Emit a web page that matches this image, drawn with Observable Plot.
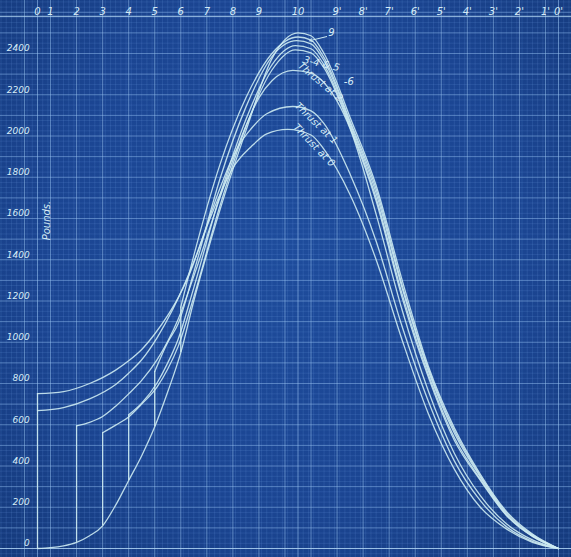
<!DOCTYPE html>
<html><head><meta charset="utf-8">
<script src="https://cdn.jsdelivr.net/npm/d3@7"></script>
<script src="https://cdn.jsdelivr.net/npm/@observablehq/plot@0.6"></script>
<style>
html,body{margin:0;padding:0;}
body{width:571px;height:557px;overflow:hidden;background:radial-gradient(ellipse at 50% 45%, #1e4c9c 0%, #1b4592 60%, #153a7c 100%);}
svg{display:block}
</style>
</head><body><div id="chart"></div>
<script>
// Stations along the top (0 … 10 … 0') and their positions in station units
const stationLabels = ["0","1","2","3","4","5","6","7","8","9","10","9'","8'","7'","6'","5'","4'","3'","2'","1'","0'"];
const stationPos    = [0,0.5,1.5,2.5,3.5,4.5,5.5,6.5,7.5,8.5,10,11.5,12.5,13.5,14.5,15.5,16.5,17.5,18.5,19.5,20];
// Pounds scale
const poundTicks = [0,200,400,600,800,1000,1200,1400,1600,1800,2000,2200,2400];

// Curves (station units, pounds)
const thrust0U = [0,1,2,3,3.5,4,4.5,5,5.4,5.8,6.5,7,7.5,8.2,8.8,9.6,10.5,11,12,13,14,15,16,17,18,19,20];
const thrust0V = [751,761,800,865,910,965,1040,1130,1215,1320,1560,1715,1845,1948,2010,2032,2005,1935,1715,1400,1010,655,385,200,95,30,0];
const thrust1U = [0,1,2,3,3.5,4,4.6,5.2,6,7,7.4,7.7,8.2,8.8,9.8,10.5,11,12,13,14,15,16,17,18,19,20];
const thrust1V = [668,683,725,795,850,915,1024,1161,1390,1745,1870,1948,2035,2108,2143,2122,2060,1815,1490,1075,715,425,232,106,35,0];
const thrust2U = [1.5,2,2.5,3,3.5,4,4.6,5,5.4,6,7,8,8.5,9,9.8,10.5,11,12,13,14,15,16,17,18,19,20];
const thrust2V = [595,612,640,690,750,815,917,1005,1112,1320,1700,2050,2185,2268,2318,2305,2258,2035,1620,1155,765,462,256,120,42,0];
const thrust3U = [2.5,3,3.5,4,4.6,5,5.4,6,7,8,9,9.9,10.5,11,12,13,14,15,16,17,18,19,20];
const thrust3V = [561,598,638,700,785,870,980,1220,1660,2045,2320,2418,2403,2330,2040,1685,1215,832,525,330,160,58,0];
const thrust4U = [3.5,4,4.6,5,5.4,6,7,8,9,9.9,10.5,11,12,13,14,15,16,17,18,19,20];
const thrust4V = [649,705,805,900,1015,1265,1710,2080,2345,2438,2423,2345,2050,1700,1232,845,538,336,163,60,0];
const thrust5U = [4.5,5,5.4,6,7,8,9,9.95,10.5,11,12,13,14,15,16,17,18,19,20];
const thrust5V = [858,1000,1090,1340,1790,2140,2385,2462,2447,2365,2062,1722,1262,862,560,346,168,62,0];
const thrust6U = [5.5,6,7,8,9,10,10.5,11,12,13,14,15,16,17,18,19,20];
const thrust6V = [1170,1420,1860,2185,2400,2480,2465,2380,2072,1742,1276,873,572,352,174,66,0];
const thrust9U = [0,0.5,1,1.5,2,2.5,3,3.5,4,4.5,5,5.5,6,7,8,9,10,10.5,11,12,13,14,15,16,17,18,19,20];
const thrust9V = [0,4,13,30,62,110,210,330,450,590,760,950,1200,1640,2025,2375,2500,2486,2400,2090,1760,1300,885,585,360,180,70,0];

// Vertical drops at the thrust stations
const dropU      = [0,1.5,2.5,3.5,4.5,5.5];
const dropTop    = [751,595,561,649,858,1170];
const dropBottom = [0,30,110,330,590,950];

const curves = [
  ["0",thrust0U,thrust0V],["1",thrust1U,thrust1V],["2",thrust2U,thrust2V],
  ["3",thrust3U,thrust3V],["4",thrust4U,thrust4V],["5",thrust5U,thrust5V],
  ["6",thrust6U,thrust6V],["9",thrust9U,thrust9V]
];
const rows = curves.flatMap(([name,us,vs]) => us.map((u,i)=>({name,u,v:vs[i]})));
const drops = dropU.map((u,i)=>({u,top:dropTop[i],bottom:dropBottom[i]}));
const stations = stationLabels.map((l,i)=>({l,u:stationPos[i]}));

const pxU = 26.05, pxV = 0.20625;
const xDom = [-37/pxU, 534/pxU];
const yDom = [-9/pxV, 548/pxV];

const fineX = d3.range(-1.4, 20.6, 0.2);
const majorX = d3.range(-1.5, 21, 1).concat([0,10,20]);
const fineY = d3.range(-25, 2675, 25);
const majorY = d3.range(0, 2700, 100);

const ink = "#cdebf2";
const txt = "#d6ecf7";
const font = "'DejaVu Sans', sans-serif";

const chart = Plot.plot({
  width: 571, height: 557, margin: 0,
  x: {domain: xDom, axis: null},
  y: {domain: yDom, axis: null},
  style: {background: "transparent", fontFamily: font},
  marks: [
    Plot.ruleX(fineX, {stroke: "#6f9ee0", strokeOpacity: 0.25, strokeWidth: 0.7}),
    Plot.ruleY(fineY, {stroke: "#6f9ee0", strokeOpacity: 0.25, strokeWidth: 0.7}),
    Plot.ruleX(majorX, {stroke: "#9cc6f2", strokeOpacity: 0.5, strokeWidth: 1}),
    Plot.ruleY(majorY, {stroke: "#9cc6f2", strokeOpacity: 0.4, strokeWidth: 1}),
    Plot.ruleY([0, 2580], {stroke: "#b8dcf7", strokeOpacity: 0.7, strokeWidth: 1.1}),
    // curves
    Plot.line(rows, {x: "u", y: "v", z: "name", curve: "monotone-x", stroke: ink, strokeWidth: 1.3, strokeOpacity: 0.9}),
    Plot.ruleX(drops, {x: "u", y1: "bottom", y2: "top", stroke: ink, strokeWidth: 1.3, strokeOpacity: 0.9}),
    // station labels along top
    Plot.text(stations, {x: "u", y: () => 2604, text: "l", fill: txt, fontSize: 10, fontStyle: "italic"}),
    // pounds labels
    Plot.text(poundTicks, {x: () => -0.3, y: d => d, text: d => String(d), dy: -5, textAnchor: "end", fill: txt, fontSize: 9, fontStyle: "italic"}),
    Plot.text(["Pounds."], {x: () => 0.35, y: () => 1590, rotate: -90, fill: txt, fontSize: 10, fontStyle: "italic"}),
    // curve annotations
    Plot.text(["9"], {x: () => 11.28, y: () => 2500, fill: txt, fontSize: 10, fontStyle: "italic"}),
    Plot.arrow([0], {x1: () => 11.1, y1: () => 2482, x2: () => 10.45, y2: () => 2462, stroke: ink, strokeWidth: 1, headLength: 5}),
    Plot.text(["3-4 & 5"], {x: () => 10.9, y: () => 2350, rotate: 13, fill: txt, fontSize: 10, fontStyle: "italic"}),
    Plot.text(["-6"], {x: () => 11.95, y: () => 2262, fill: txt, fontSize: 10, fontStyle: "italic"}),
    Plot.text(["Thrust at 2"], {x: () => 10.86, y: () => 2262, rotate: 40, fill: txt, fontSize: 10, fontStyle: "italic"}),
    Plot.text(["Thrust at 1"], {x: () => 10.7, y: () => 2062, rotate: 44, fill: txt, fontSize: 10, fontStyle: "italic"}),
    Plot.text(["Thrust at 0"], {x: () => 10.62, y: () => 1955, rotate: 46, fill: txt, fontSize: 10, fontStyle: "italic"})
  ]
});
document.getElementById("chart").append(chart);
</script>
</body></html>
